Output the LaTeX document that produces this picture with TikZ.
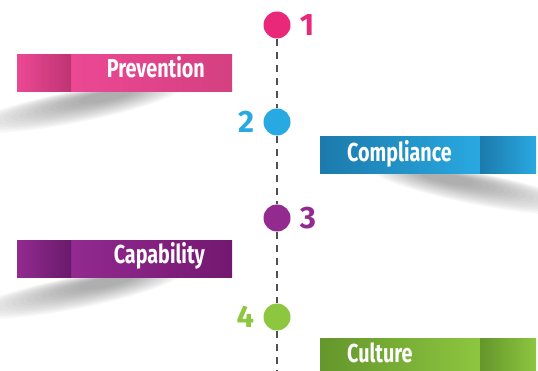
\documentclass[tikz,border=0pt]{standalone}
\usepackage{fontspec}
\setsansfont{Fira Sans}[FakeStretch=0.76]
\newfontfamily\numfont{Fira Sans}
\usetikzlibrary{positioning, calc}
\definecolor{prevpink}{RGB}{236,72,148}
\definecolor{prevdark}{RGB}{190,52,115}
\definecolor{prevend}{RGB}{212,64,128}
\definecolor{dotpink}{RGB}{233,40,122}
\definecolor{compblue}{RGB}{41,169,225}
\definecolor{compdark}{RGB}{28,122,172}
\definecolor{capapurple}{RGB}{146,42,144}
\definecolor{capadark}{RGB}{106,26,106}
\definecolor{capaend}{RGB}{115,24,112}
\definecolor{cultgreen}{RGB}{141,198,63}
\definecolor{cultdark}{RGB}{100,150,44}
\definecolor{dashgray}{RGB}{80,80,80}

\begin{document}
\begin{tikzpicture}[x=1pt, y=-1pt,
  dot/.style={circle, minimum size=27pt, inner sep=0pt},
  num/.style={font=\numfont\bfseries\fontsize{31}{31}\selectfont, inner sep=0pt},
  bar/.style={rectangle, minimum height=37pt, inner sep=0pt, anchor=north west},
  bartext/.style={font=\sffamily\bfseries\fontsize{26}{26}\selectfont, text=white, inner sep=0pt},
  timeline/.style={dashgray, line width=1.3pt, dash pattern=on 7pt off 6pt},
  shadowlayer/.style={black, opacity=0.022}
]
  \useasboundingbox (0,0) rectangle (538,371);

  % shadows under the bars
  \foreach \b in {91, 277} {
    \foreach \t in {0,0.0625,...,0.94}
      \fill[shadowlayer, rotate around={11:(75+32*\t,\b+16-11*\t)}]
        (75+32*\t,\b+16-11*\t) ellipse [x radius={110*(1-0.8*\t)}, y radius={16*(1-0.75*\t)}];
  }
  \foreach \t in {0,0.0625,...,0.94}
    \fill[shadowlayer, rotate around={-11:(478-32*\t,189-11*\t)}]
      (478-32*\t,189-11*\t) ellipse [x radius={110*(1-0.8*\t)}, y radius={16*(1-0.75*\t)}];

  % timeline
  \node[dot, fill=dotpink] (c1) at (277,25) {};
  \node[dot, fill=compblue] (c2) at (277,122) {};
  \node[dot, fill=capapurple] (c3) at (277,218) {};
  \node[dot, fill=cultgreen] (c4) at (277,317) {};
  \coordinate (tlend) at (277,371);
  \draw[timeline] (c1) -- (c2);
  \draw[timeline] (c2) -- (c3);
  \draw[timeline] (c3) -- (c4);
  \draw[timeline] (c4) -- (tlend);

  \node[num, text=dotpink, right=9pt of c1] (n1) {1};
  \node[num, text=compblue, left=9pt of c2] (n2) {2};
  \node[num, text=capapurple, right=9pt of c3] (n3) {3};
  \node[num, text=cultgreen, left=9pt of c4] (n4) {4};

  % bars
  \node[bar, minimum width=161pt, left color=prevpink, right color=prevend] (prevbar) at (71,54) {};
  \node[bar, minimum width=54pt, left color=prevpink, right color=prevdark] (prevfold) at (17,54) {};
  \node[bartext, anchor=base east] (prevtext) at (205,78) {Prevention};

  \node[bar, minimum width=160pt, left color=compdark, right color=compblue] (compbar) at (320,136) {};
  \node[bar, minimum width=56pt, left color=compdark, right color=compblue] (compfold) at (480,136) {};
  \node[bartext, anchor=base west] (comptext) at (347,162) {Compliance};

  \node[bar, minimum width=161pt, left color=capapurple, right color=capaend] (capabar) at (71,240) {};
  \node[bar, minimum width=54pt, left color=capapurple, right color=capadark] (capafold) at (17,240) {};
  \node[bartext, anchor=base east] (capatext) at (205,264) {Capability};

  \node[bar, minimum width=160pt, left color=cultdark, right color=cultgreen] (cultbar) at (320,338) {};
  \node[bar, minimum width=56pt, left color=cultdark, right color=cultgreen] (cultfold) at (480,338) {};
  \node[bartext, anchor=base west] (culttext) at (347,362) {Culture};
\end{tikzpicture}
\end{document}
